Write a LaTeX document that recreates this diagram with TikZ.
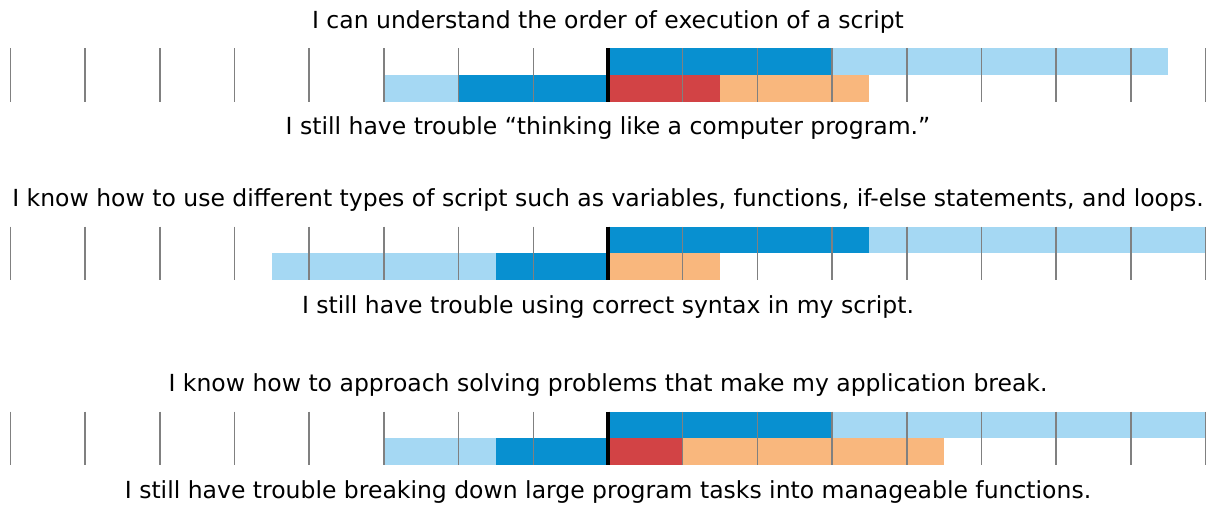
\documentclass[tikz,border=0pt]{standalone}
\usepackage{fontspec}
\setmainfont{DejaVu Sans}
\definecolor{agreedark}{RGB}{8,144,208}
\definecolor{agreelight}{RGB}{165,216,243}
\definecolor{troublered}{RGB}{210,67,69}
\definecolor{troubleorange}{RGB}{249,183,125}
\definecolor{tickgray}{RGB}{128,128,128}
\begin{document}
\begin{tikzpicture}[x=74.7pt, y=-1pt,
        lbl/.style={font=\fontsize{23.5}{28}\selectfont, inner sep=0pt, anchor=base}]
        \useasboundingbox (-8.139,0) rectangle (8.072,510);
        %statements above and below each row:
        \foreach \t/\n/\q/\s in {48.3/1/{I can understand the order of execution of a script}/{I still have trouble “thinking like a computer program.”},
            226.7/2/{I know how to use different types of script such as variables, functions, if-else statements, and loops.}/{I still have trouble using correct syntax in my script.},
            411.7/3/{I know how to approach solving problems that make my application break.}/{I still have trouble breaking down large program tasks into manageable functions.}}{
            \node[lbl] (q\n) at (0,\t-20) {\q};
            \node[lbl] (s\n) at (0,\t+86.3) {\s};
        }

        %bars: top of row/from/to/level/colour
        \foreach \t/\a/\b/\l/\c in {48.3/0/3/0/agreedark,48.3/3/7.5/0/agreelight,48.3/-3/-2/1/agreelight,48.3/-2/0/1/agreedark,48.3/0/1.5/1/troublered,48.3/1.5/3.5/1/troubleorange,
            226.7/0/3.5/0/agreedark,226.7/3.5/8/0/agreelight,226.7/-4.5/-1.5/1/agreelight,226.7/-1.5/0/1/agreedark,226.7/0/1.5/1/troubleorange,
            411.7/0/3/0/agreedark,411.7/3/8/0/agreelight,411.7/-3/-1.5/1/agreelight,411.7/-1.5/0/1/agreedark,411.7/0/1/1/troublered,411.7/1/4.5/1/troubleorange}{
            \fill[\c] (\a,\t+\l*26.65) rectangle (\b,\t+\l*26.65+26.65);
        }

        %ticks:
        \foreach \t in {48.3,226.7,411.7}{
            \foreach \k in {-8,...,-1,1,2,...,8}{
                \draw[tickgray, line width=1.5pt] (\k,\t) -- (\k,\t+53.3);
            }
            \draw[black, line width=4pt] (0,\t) -- (0,\t+53.3);
        }
    \end{tikzpicture}
\end{document}
